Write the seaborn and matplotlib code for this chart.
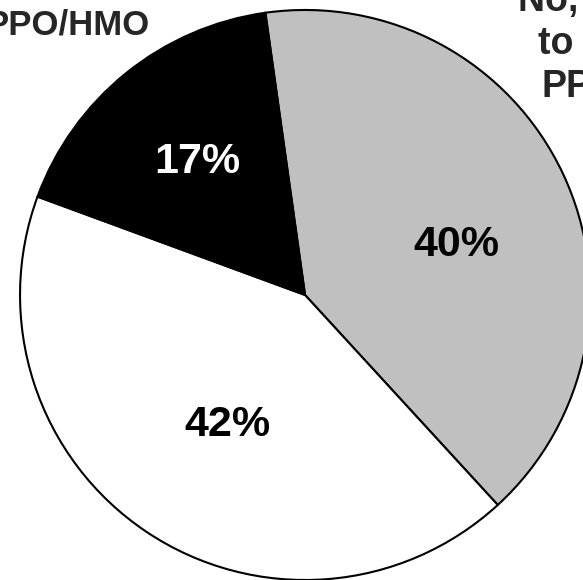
import matplotlib
matplotlib.use("Agg")
import matplotlib.pyplot as plt
import numpy as np
import seaborn as sns

# valores (fatias em sentido horario a partir do topo)
categorias = ["No, changed\nto another\nPPO/HMO", "", "PPO/HMO"]
valores = [40, 42, 17]
cores = ["#c0c0c0", "#ffffff", "#000000"]
cores_pct = ["black", "black", "white"]
# posicao dos rotulos de % (raio e desvio de angulo em relacao ao meio da fatia)
pct_raio = [0.56, 0.53, 0.60]
pct_desvio = [-7, 3, 0]

sns.set_theme(style="white")
plt.rcParams["font.family"] = ["Liberation Sans", "DejaVu Sans"]
plt.rcParams["font.weight"] = "bold"

fig = plt.figure(figsize=(5.83, 5.80), dpi=100)
ax = fig.add_axes([0, 0, 1, 1])

wedges, textos, pcts = ax.pie(
    valores,
    colors=cores,
    startangle=98,
    counterclock=False,
    autopct="%.0f%%",
    wedgeprops={"edgecolor": "black", "linewidth": 1.5},
)
for w, t, c, r, d in zip(wedges, pcts, cores_pct, pct_raio, pct_desvio):
    ang = np.deg2rad((w.theta1 + w.theta2) / 2 + d)
    t.set_position((r * np.cos(ang), r * np.sin(ang)))
    t.set_color(c)
    t.set_fontsize(31)
    t.set_fontweight("bold")

# rotulos das categorias (cortados pela borda da figura, como no original)
ax.text(-0.544, 0.947, categorias[2], ha="right", va="center",
        fontsize=25, fontweight="bold")
ax.text(1.14, 0.88, categorias[0], ha="center", va="center",
        fontsize=27, fontweight="bold", linespacing=1.25)

ax.set_xlim(-1.070, 0.975)
ax.set_ylim(-1.0, 1.035)
ax.set_aspect("equal")
ax.axis("off")

fig.savefig("out.png", dpi=100)
